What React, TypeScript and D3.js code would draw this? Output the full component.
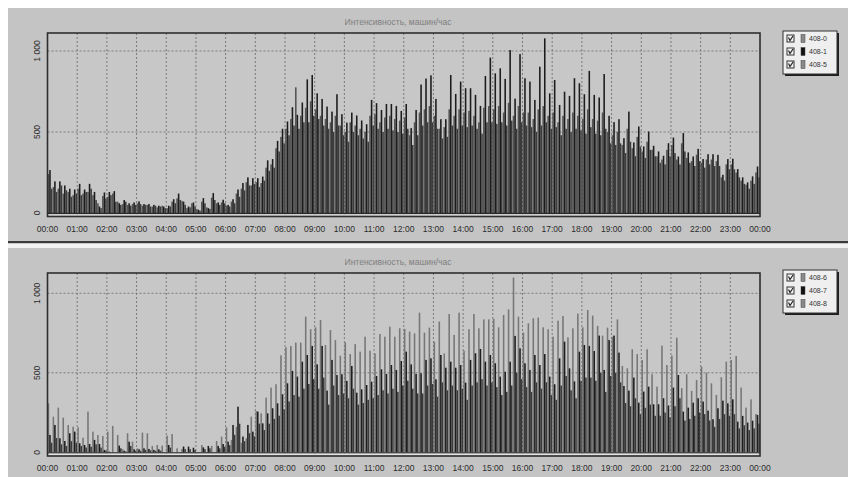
import React from 'react';
import * as d3 from 'd3';

// ---------- DATA ----------
const hourLabels = ['00:00','01:00','02:00','03:00','04:00','05:00','06:00','07:00','08:00','09:00','10:00','11:00','12:00','13:00','14:00','15:00','16:00','17:00','18:00','19:00','20:00','21:00','22:00','23:00','00:00'];
const yTicks = [0, 500, 1000];
const yTickLabels = ['0', '500', '1 000'];
const chartTitle = 'Интенсивность, машин/час';
const names1 = ['408-0', '408-1', '408-5'];
const names2 = ['408-6', '408-7', '408-8'];

// Panel 1 (10-minute slots, 144 per day)
const p1s0 = [240,160,150,120,130,110,150,120,130,110,60,105,100,120,70,55,50,55,60,45,50,40,35,45,30,70,90,75,30,60,25,70,35,95,60,65,45,70,120,150,190,170,190,185,280,300,400,470,520,580,776,600,650,690,640,600,580,560,600,540,500,560,540,520,500,600,610,560,590,600,580,570,590,480,560,620,640,660,600,520,530,640,600,640,620,630,600,560,650,660,640,660,620,680,600,660,620,620,580,640,660,600,620,560,600,580,620,600,580,640,580,570,620,500,480,500,420,520,400,470,380,440,390,350,330,390,420,330,430,340,320,360,310,330,330,320,220,300,300,250,200,175,200,250];
const p1s1 = [265,195,195,170,150,145,180,145,180,130,40,127,130,135,60,80,60,65,72,55,55,50,45,40,45,85,120,70,40,65,20,92,30,123,65,82,50,85,145,185,220,215,215,225,325,333,445,520,565,653,606,682,825,852,739,704,657,626,733,610,558,620,602,571,548,698,678,636,673,673,661,630,673,524,636,793,830,850,704,579,579,852,735,811,770,770,729,661,846,959,862,893,828,1006,706,981,832,811,698,903,1078,739,821,667,749,723,832,801,733,877,729,713,858,600,561,579,462,626,435,534,411,503,415,380,353,431,466,349,493,374,349,396,333,363,363,359,236,333,335,271,220,189,226,287];
const p1s2 = [150,130,170,140,100,120,110,130,150,80,30,90,110,70,50,70,45,50,55,50,40,45,40,30,40,60,80,50,35,40,15,60,25,80,50,60,40,60,100,140,170,180,160,200,260,280,380,430,480,540,520,560,560,600,580,540,520,500,540,480,440,500,480,460,440,540,520,500,520,510,500,490,520,420,480,540,560,560,520,460,470,540,520,540,530,540,520,490,560,560,550,560,540,570,520,560,540,530,500,540,560,520,530,480,520,500,520,510,490,530,490,480,520,430,420,430,370,440,350,410,340,390,350,310,300,350,370,300,380,310,290,320,280,300,290,290,200,270,270,220,180,150,180,220];

// Panel 2
const p2s0 = [308,224,281,218,172,161,157,92,256,130,109,103,130,166,109,20,120,67,25,124,120,40,46,42,105,115,25,21,0,0,0,46,0,40,71,99,157,78,161,60,88,224,260,245,344,407,428,610,660,669,690,690,853,774,786,832,675,769,706,608,692,618,681,633,727,639,622,744,727,790,727,780,776,759,748,878,753,784,696,822,622,870,738,878,639,774,870,780,836,836,839,786,864,899,1099,853,753,811,843,847,786,774,727,828,857,723,780,872,786,895,860,795,734,784,727,836,543,528,648,618,581,648,491,413,671,549,608,721,403,491,386,455,539,501,434,361,472,570,581,606,407,281,333,241];
const p2s1 = [109,172,88,71,120,130,57,46,52,78,52,15,4,0,42,10,67,19,19,25,21,15,19,0,46,0,0,36,36,29,0,31,40,0,40,52,67,172,287,99,172,130,256,182,245,277,308,365,434,512,476,570,612,669,553,669,388,581,486,491,449,543,375,396,423,444,480,522,493,549,518,574,633,553,493,497,581,591,459,612,532,570,532,549,438,581,623,650,570,612,560,476,507,570,732,654,560,518,612,549,618,476,428,591,696,528,446,633,675,669,637,734,518,706,734,627,417,388,470,312,382,413,302,302,340,294,407,486,256,281,312,340,319,262,208,277,325,308,333,193,229,187,199,235];
const p2s2 = [60,90,50,40,70,60,40,30,35,50,30,10,0,0,25,5,40,10,10,15,12,10,10,0,30,0,0,20,20,15,0,20,25,0,25,35,45,110,180,70,120,100,180,140,180,210,230,270,320,360,350,400,430,460,400,470,300,420,360,370,340,400,300,310,330,340,360,390,370,400,380,420,450,400,370,370,420,430,350,440,390,420,390,400,330,420,440,460,420,440,410,360,380,420,500,460,410,380,440,400,440,360,330,420,480,390,340,450,470,470,450,500,380,480,500,440,310,290,340,240,280,300,230,230,250,220,290,340,200,210,230,250,240,200,160,210,240,230,240,150,170,140,150,180];

const slotMinutes = d3.range(144).map((i) => i * 10);

// ---------- LAYOUT ----------
const W = 848;
const H = 477;
const PL = 47.5;
const PR = 760;
const FONT = '"Liberation Sans", Arial, sans-serif';

type PanelCfg = {
  top: number; bottom: number; plotTop: number; plotBottom: number;
  yZero: number; y1000: number; titleY: number; labelY: number;
  legendTop: number; series: number[][]; names: string[]; colors: string[]; swatches: string[];
};

const panels: PanelCfg[] = [
  { top: 8, bottom: 241, plotTop: 33, plotBottom: 216.5, yZero: 213, y1000: 51, titleY: 25, labelY: 232,
    legendTop: 31, series: [p1s0, p1s1, p1s2], names: names1,
    colors: ['#545454', '#1c1c1c', '#3c3c3c'], swatches: ['#8a8a8a', '#111111', '#8a8a8a'] },
  { top: 248, bottom: 477, plotTop: 273, plotBottom: 456, yZero: 452.3, y1000: 293.3, titleY: 265, labelY: 471,
    legendTop: 270, series: [p2s0, p2s1, p2s2], names: names2,
    colors: ['#777777', '#1e1e1e', '#3a3a3a'], swatches: ['#8a8a8a', '#111111', '#8a8a8a'] },
];

function Panel({ cfg }: { cfg: PanelCfg }) {
  const x = d3.scaleLinear().domain([0, 1440]).range([PL, PR]);
  const y = d3.scaleLinear().domain([0, 1000]).range([cfg.yZero, cfg.y1000]);
  const gw = x(10) - x(0);
  const sub = d3.scaleBand<number>().domain([0, 1, 2]).range([0, gw]).paddingInner(0).paddingOuter(0.08);
  const hours = d3.range(25);
  const lx = 783, lw = 54, lh = 43;
  return (
    <g>
      <rect x={8} y={cfg.top} width={W - 8} height={cfg.bottom - cfg.top} fill="#c4c4c4" />
      <text x={398} y={cfg.titleY} fontSize={8.5} fill="#7e7e7e" textAnchor="middle" fontFamily={FONT}>{chartTitle}</text>
      <rect x={PL} y={cfg.plotTop} width={PR - PL} height={cfg.plotBottom - cfg.plotTop} fill="#c7c7c7" />
      {/* grid */}
      {hours.slice(1, 24).map((h) => (
        <line key={'v' + h} x1={x(h * 60)} x2={x(h * 60)} y1={cfg.plotTop} y2={cfg.plotBottom} stroke="#7a7a7a" strokeWidth={1} strokeDasharray="2,2" />
      ))}
      {yTicks.slice(1).map((t) => (
        <line key={'h' + t} x1={PL} x2={PR} y1={y(t)} y2={y(t)} stroke="#7a7a7a" strokeWidth={1} strokeDasharray="2,2" />
      ))}
      {/* bars */}
      {cfg.series.map((vals, si) => (
        <g key={'s' + si} fill={cfg.colors[si]}>
          {vals.map((v, k) => (v > 0 ? (
            <rect key={k} x={x(slotMinutes[k]) + (sub(si) as number)} width={sub.bandwidth()} y={y(v)} height={y(0) - y(v)} />
          ) : null))}
        </g>
      ))}
      {/* zero line and frame */}
      <line x1={PL} x2={PR} y1={y(0) + 0.5} y2={y(0) + 0.5} stroke="#2a2a2a" strokeWidth={1.3} />
      <rect x={PL} y={y(0) + 1.3} width={PR - PL} height={cfg.plotBottom - y(0) - 2.3} fill="#e2e2e2" />
      <rect x={PL} y={cfg.plotTop} width={PR - PL} height={cfg.plotBottom - cfg.plotTop} fill="none" stroke="#2e2e2e" strokeWidth={1.6} />
      {/* y labels */}
      {yTicks.map((t, i) => (
        <text key={'yl' + t} transform={`translate(${40},${y(t)}) rotate(-90)`} fontSize={8.5} fill="#2c2c2c" textAnchor="middle" fontFamily={FONT}>{yTickLabels[i]}</text>
      ))}
      {/* x labels */}
      {hours.map((h) => (
        <text key={'xl' + h} x={x(h * 60)} y={cfg.labelY} fontSize={8.5} fill="#2c2c2c" textAnchor="middle" fontFamily={FONT}>{hourLabels[h]}</text>
      ))}
      {/* legend */}
      <rect x={lx + 2} y={cfg.legendTop + 2} width={lw} height={lh} fill="#1e1e1e" />
      <rect x={lx} y={cfg.legendTop} width={lw} height={lh} fill="#efefef" stroke="#333" strokeWidth={1} />
      {cfg.names.map((n, i) => {
        const cy = cfg.legendTop + 7.5 + i * 13;
        return (
          <g key={n}>
            <rect x={lx + 4} y={cy - 3.5} width={7} height={7} fill="#f4f4f4" stroke="#333" strokeWidth={1} />
            <path d={`M${lx + 5.5},${cy - 1} L${lx + 7},${cy + 2} L${lx + 10},${cy - 2.5}`} fill="none" stroke="#222" strokeWidth={1.2} />
            <rect x={lx + 18} y={cy - 4} width={4} height={8} fill={cfg.swatches[i]} stroke="#444" strokeWidth={0.5} />
            <text x={lx + 26} y={cy + 2.5} fontSize={7} fill="#333" fontFamily={FONT}>{n}</text>
          </g>
        );
      })}
    </g>
  );
}

export default function App() {
  return (
    <svg width={W} height={H} style={{ position: 'absolute', left: 0, top: 0 }} xmlns="http://www.w3.org/2000/svg">
      <rect x={0} y={0} width={W} height={H} fill="#ffffff" />
      {panels.map((p, i) => <Panel key={i} cfg={p} />)}
      <rect x={8} y={241} width={W - 8} height={2.5} fill="#3a3a3a" />
      <rect x={8} y={243.5} width={W - 8} height={4.5} fill="#f2f2f2" />
    </svg>
  );
}
